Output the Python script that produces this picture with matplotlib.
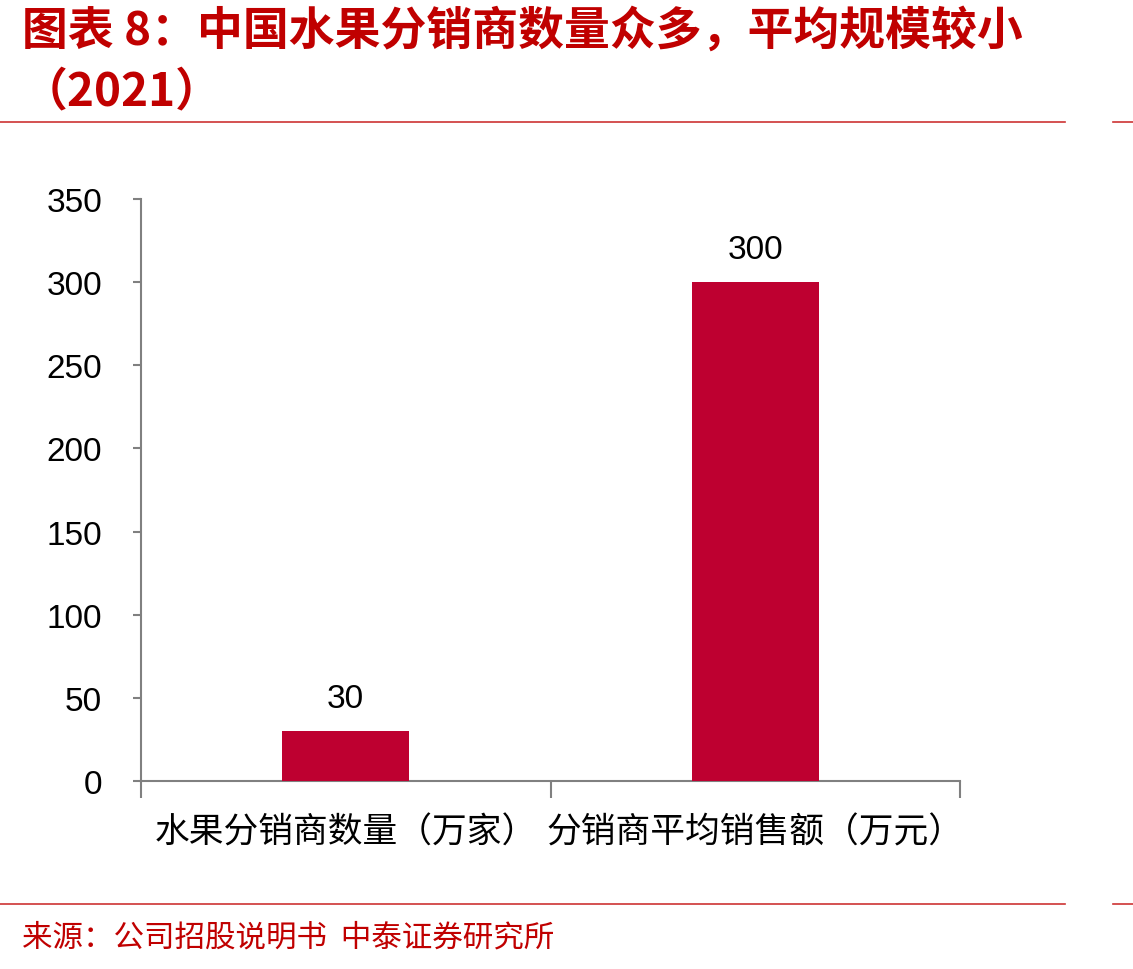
import matplotlib
matplotlib.use("Agg")
import matplotlib.pyplot as plt
from matplotlib.lines import Line2D

plt.rcParams["font.family"] = ["Liberation Sans", "Noto Sans CJK SC", "DejaVu Sans"]

categories = ["水果分销商数量（万家）", "分销商平均销售额（万元）"]
values = [30, 300]
yticks = [0, 50, 100, 150, 200, 250, 300, 350]

RED = "#C00000"
BAR = "#BE0030"
GRAY = "#808080"
CJK = ["Noto Sans CJK SC", "DejaVu Sans"]

fig = plt.figure(figsize=(11.33, 9.7), dpi=100)
W, H = 1133, 970

# 标题
fig.text(22 / W, 1 - 32 / H, "图表 8：中国水果分销商数量众多，平均规模较小", color=RED,
         fontsize=33, fontweight="bold", style="italic", va="center", ha="left", family=CJK)
fig.text(22 / W, 1 - 92 / H, "（2021）", color=RED,
         fontsize=33, fontweight="bold", style="italic", va="center", ha="left", family=CJK)

# 分隔线
for y in (123, 905):
    fig.add_artist(Line2D([0, 1065 / W], [1 - y / H] * 2, color=RED, lw=1.2, alpha=0.8))
    fig.add_artist(Line2D([1113 / W, 1], [1 - y / H] * 2, color=RED, lw=1.2, alpha=0.8))

# 来源
fig.text(22 / W, 1 - 938 / H, "来源：公司招股说明书  中泰证券研究所", color=RED,
         fontsize=22, va="center", ha="left", family=CJK)

# 主图
ax = fig.add_axes([141 / W, 1 - 782 / H, 819 / W, 582 / H])
x = range(len(categories))
bars = ax.bar(x, values, width=0.31, color=BAR, zorder=3)
for b, v in zip(bars, values):
    ax.annotate(f"{v}", (b.get_x() + b.get_width() / 2, v), xytext=(0, 12),
                textcoords="offset points", ha="center", va="bottom", fontsize=24)

ax.set_xlim(-0.5, 1.5)
ax.set_ylim(0, 350)
ax.set_yticks(yticks)
ax.tick_params(axis="y", labelsize=24, length=6, width=1.5, color=GRAY, pad=22)

# 类别刻度在分组边界
ax.set_xticks([-0.5, 0.5, 1.5])
ax.set_xticklabels([])
ax.set_xticks([0, 1], minor=True)
ax.set_xticklabels(categories, minor=True, fontsize=25, family=CJK)
ax.tick_params(axis="x", which="major", length=12, width=1.5, color=GRAY)
ax.tick_params(axis="x", which="minor", length=0, pad=24)

for side in ("top", "right"):
    ax.spines[side].set_visible(False)
for side in ("left", "bottom"):
    ax.spines[side].set_color(GRAY)
    ax.spines[side].set_linewidth(1.5)

fig.savefig("out.png", dpi=100)
